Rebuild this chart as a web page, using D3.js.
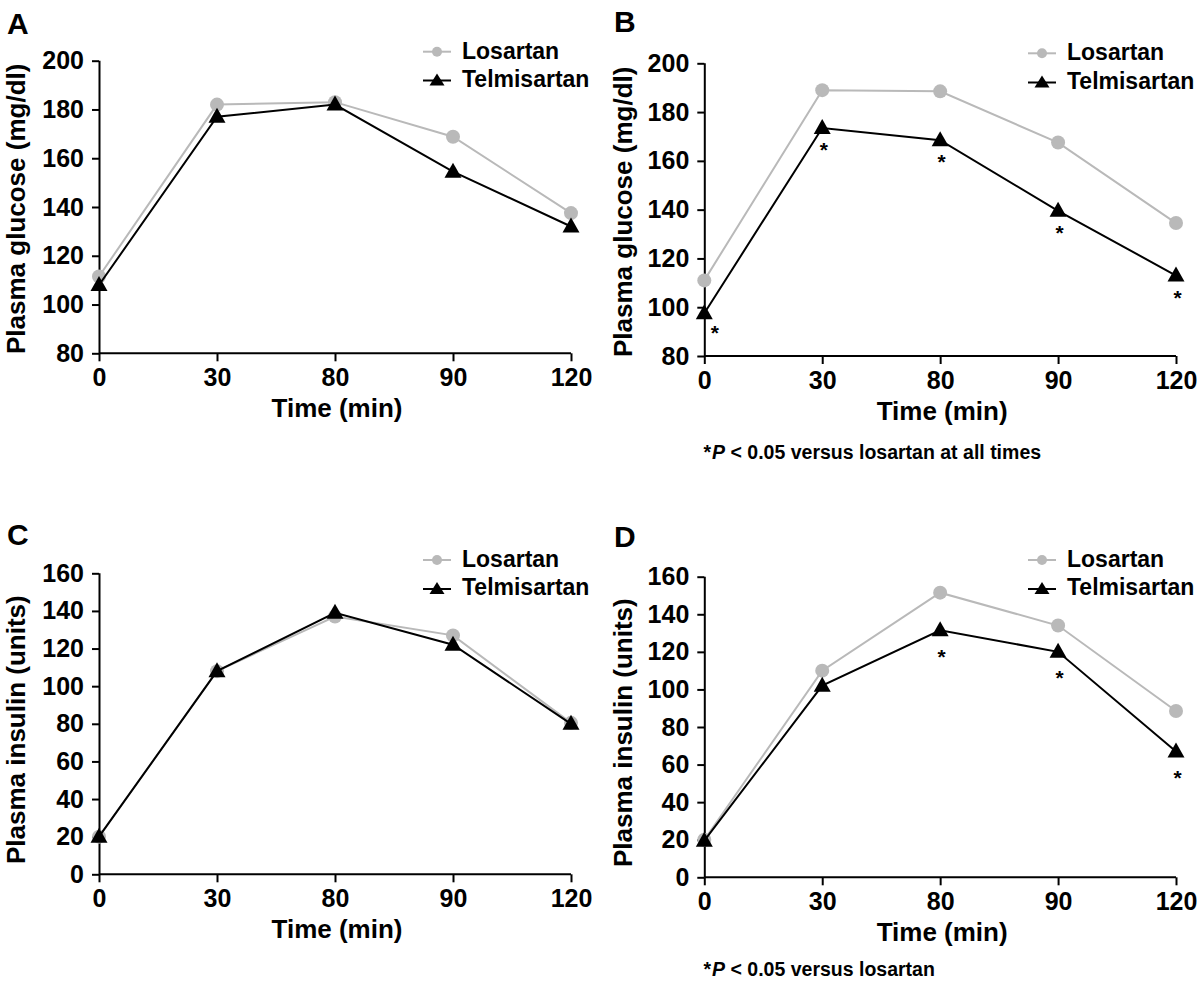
<!DOCTYPE html>
<html>
<head>
<meta charset="utf-8">
<script src="https://cdn.jsdelivr.net/npm/d3@7"></script>
<style>
  html, body { margin: 0; padding: 0; background: #fff; }
  svg { display: block; font-family: "Liberation Sans", Arial, Helvetica, sans-serif; font-weight: bold; }
</style>
</head>
<body>
<svg id="chart" width="1200" height="983"></svg>
<script>
// ---------- data ----------
const timeLabels = ["0", "30", "80", "90", "120"];
const glucoseTicks = [80, 100, 120, 140, 160, 180, 200];
const insulinTicks = [0, 20, 40, 60, 80, 100, 120, 140, 160];
const seriesNames = ["Losartan", "Telmisartan"];

const losartanA    = [111.5, 182, 183, 168.8, 137.5];
const telmisartanA = [108, 177, 182, 154.5, 132];
const losartanB    = [111, 189, 188.5, 167.5, 134.5];
const telmisartanB = [97.5, 173.5, 168.5, 139.5, 113];
const losartanC    = [20, 108, 137, 127, 80.5];
const telmisartanC = [20, 108, 139, 122, 80];
const losartanD    = [20, 110, 151.5, 134, 88.5];
const telmisartanD = [19.5, 102, 131.5, 120, 67];

const sigB = [true, true, true, true, true];
const sigD = [false, false, true, true, true];

const footnoteB = " < 0.05 versus losartan at all times";
const footnoteD = " < 0.05 versus losartan";

// ---------- layout ----------
const GREY = "#b9b9b9";
const panels = [
  { letter: "A", lx: 7,   ly: 33.5, left: 99,    right: 571, top: 60.7,  bottom: 353.3,
    ticks: glucoseTicks, title: "Plasma glucose (mg/dl)", titleX: 25,    titleY: 354,
    los: losartanA, tel: telmisartanA, sig: null, sigDy: 0,
    legX: 423,  legY1: 51.7, legY2: 80.5, foot: null },
  { letter: "B", lx: 614, ly: 32,   left: 704.3, right: 1176, top: 63.3, bottom: 356,
    ticks: glucoseTicks, title: "Plasma glucose (mg/dl)", titleX: 631.5, titleY: 357,
    los: losartanB, tel: telmisartanB, sig: sigB, sigDy: 17,
    legX: 1028, legY1: 53.3, legY2: 82.5, foot: footnoteB, footY: 459 },
  { letter: "C", lx: 7,   ly: 545,  left: 99,    right: 571, top: 573.3, bottom: 874.3,
    ticks: insulinTicks, title: "Plasma insulin (units)", titleX: 25,    titleY: 864,
    los: losartanC, tel: telmisartanC, sig: null, sigDy: 0,
    legX: 423,  legY1: 560, legY2: 589, foot: null },
  { letter: "D", lx: 614, ly: 546.5, left: 704.3, right: 1176, top: 576.7, bottom: 877.3,
    ticks: insulinTicks, title: "Plasma insulin (units)", titleX: 631.5, titleY: 867,
    los: losartanD, tel: telmisartanD, sig: sigD, sigDy: 21.5,
    legX: 1028, legY1: 560, legY2: 589, foot: footnoteD, footY: 976 }
];

const svg = d3.select("#chart");
const triPath = "M0,-9 L8.5,6 L-8.5,6 Z";
const legTri = "M0,-7 L7.5,5 L-7.5,5 Z";

panels.forEach(p => {
  const g = svg.append("g");
  const x = d3.scalePoint().domain(timeLabels).range([p.left, p.right]);
  const y = d3.scaleLinear().domain([p.ticks[0], p.ticks[p.ticks.length - 1]]).range([p.bottom, p.top]);

  // panel letter
  g.append("text").attr("x", p.lx).attr("y", p.ly)
    .attr("font-size", 30).attr("fill", "#000").text(p.letter);

  // axes
  const yAxis = d3.axisLeft(y).tickValues(p.ticks).tickSize(7).tickPadding(8).tickFormat(d3.format("d"));
  const xAxis = d3.axisBottom(x).tickSize(8).tickPadding(7);
  const gy = g.append("g").attr("transform", `translate(${p.left},0)`).call(yAxis);
  const gx = g.append("g").attr("transform", `translate(0,${p.bottom})`).call(xAxis);
  [gx, gy].forEach(a => {
    a.select(".domain").attr("stroke", "#000").attr("stroke-width", 2);
    a.selectAll(".tick line").attr("stroke", "#000").attr("stroke-width", 2);
    a.selectAll(".tick text").attr("fill", "#000").attr("font-size", 25)
      .attr("font-family", "'Liberation Sans', Arial, sans-serif").attr("font-weight", "bold");
  });
  gy.select(".domain").attr("d", `M0.5,${p.bottom}V${p.top}`);
  gx.select(".domain").attr("d", `M${p.left},0H${p.right}`);

  // axis titles
  g.append("text").attr("x", (p.left + p.right) / 2 + 2).attr("y", p.bottom + 64)
    .attr("text-anchor", "middle").attr("font-size", 26).text("Time (min)");
  g.append("text").attr("transform", `translate(${p.titleX},${p.titleY}) rotate(-90)`)
    .attr("text-anchor", "start").attr("font-size", 26).text(p.title);

  const line = d3.line().x((d, i) => x(timeLabels[i])).y(d => y(d));

  // Losartan
  g.append("path").datum(p.los).attr("d", line).attr("fill", "none")
    .attr("stroke", GREY).attr("stroke-width", 2);
  g.selectAll(".los").data(p.los).join("circle").attr("class", "los")
    .attr("cx", (d, i) => x(timeLabels[i])).attr("cy", d => y(d)).attr("r", 7).attr("fill", GREY);

  // Telmisartan
  g.append("path").datum(p.tel).attr("d", line).attr("fill", "none")
    .attr("stroke", "#000").attr("stroke-width", 2);
  g.selectAll(".tel").data(p.tel).join("path").attr("class", "tel")
    .attr("transform", (d, i) => `translate(${x(timeLabels[i])},${y(d)})`)
    .attr("d", triPath).attr("fill", "#000");

  // significance marks
  if (p.sig) {
    const marks = p.tel.map((v, i) => ({ v, i, t: timeLabels[i] })).filter(d => p.sig[d.i]);
    g.selectAll(".sig").data(marks).join("text").attr("class", "sig")
      .attr("x", d => x(d.t) + (d.i === 0 ? 10.5 : 1.5))
      .attr("y", d => y(d.v) + p.sigDy + (d.i === 0 ? -2 : 0) + 12)
      .attr("text-anchor", "middle").attr("font-size", 21).text("*");
  }

  // legend
  const leg = g.append("g");
  leg.append("line").attr("x1", p.legX).attr("x2", p.legX + 28).attr("y1", p.legY1).attr("y2", p.legY1)
    .attr("stroke", GREY).attr("stroke-width", 2);
  leg.append("circle").attr("cx", p.legX + 14).attr("cy", p.legY1).attr("r", 5).attr("fill", GREY);
  leg.append("text").attr("x", p.legX + 39).attr("y", p.legY1 + 7).attr("font-size", 23).text(seriesNames[0]);
  leg.append("line").attr("x1", p.legX).attr("x2", p.legX + 28).attr("y1", p.legY2).attr("y2", p.legY2)
    .attr("stroke", "#000").attr("stroke-width", 2);
  leg.append("path").attr("transform", `translate(${p.legX + 14},${p.legY2})`).attr("d", legTri).attr("fill", "#000");
  leg.append("text").attr("x", p.legX + 39).attr("y", p.legY2 + 6).attr("font-size", 23).text(seriesNames[1]);

  // footnote
  if (p.foot) {
    const t = g.append("text").attr("x", 703.5).attr("y", p.footY).attr("font-size", 19.5);
    t.append("tspan").text("*");
    t.append("tspan").attr("font-style", "italic").attr("dx", 1).text("P");
    t.append("tspan").text(p.foot);
  }
});
</script>
</body>
</html>
